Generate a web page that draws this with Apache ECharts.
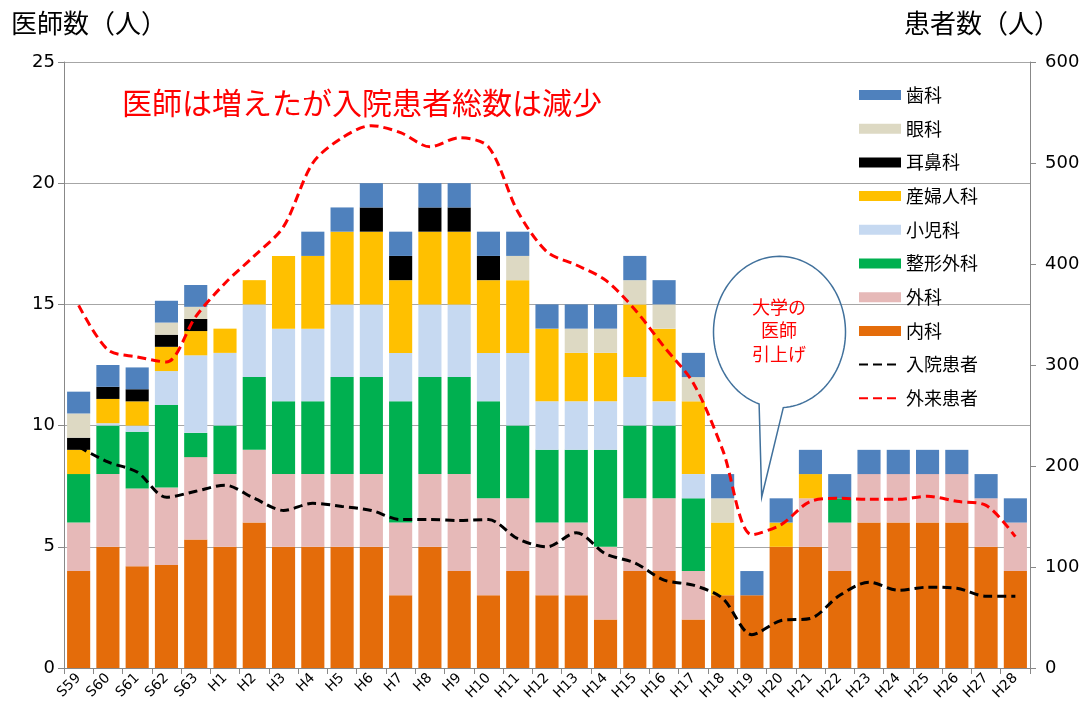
<!DOCTYPE html>
<html>
<head>
<meta charset="utf-8">
<script src="https://cdn.jsdelivr.net/npm/echarts@6/dist/echarts.min.js"></script>
<style>
html,body{margin:0;padding:0;background:#fff;}
#chart{width:1092px;height:711px;}
</style>
</head>
<body>
<div id="chart"></div>
<script>
const categories = ['S59','S60','S61','S62','S63','H1','H2','H3','H4','H5','H6','H7','H8','H9','H10','H11','H12','H13','H14','H15','H16','H17','H18','H19','H20','H21','H22','H23','H24','H25','H26','H27','H28'];

const naika     = [4, 5, 4.2, 4.25, 5.3, 5, 6, 5, 5, 5, 5, 3, 5, 4, 3, 4, 3, 3, 2, 4, 4, 2, 3, 3, 5, 5, 4, 6, 6, 6, 6, 5, 4];
const geka      = [2, 3, 3.2, 3.2, 3.4, 3, 3, 3, 3, 3, 3, 3, 3, 4, 4, 3, 3, 3, 3, 3, 3, 2, 0, 0, 0, 2, 2, 2, 2, 2, 2, 2, 2];
const seikei    = [2, 2, 2.35, 3.4, 1, 2, 3, 3, 3, 4, 4, 5, 4, 4, 4, 3, 3, 3, 4, 3, 3, 3, 0, 0, 0, 0, 1, 0, 0, 0, 0, 0, 0];
const shoni     = [0, 0.1, 0.25, 1.4, 3.2, 3, 3, 3, 3, 3, 3, 2, 3, 3, 2, 3, 2, 2, 2, 2, 1, 1, 0, 0, 0, 0, 0, 0, 0, 0, 0, 0, 0];
const sanfujin  = [1, 1, 1, 1, 1, 1, 1, 3, 3, 3, 3, 3, 3, 3, 3, 3, 3, 2, 2, 3, 3, 3, 3, 0, 1, 1, 0, 0, 0, 0, 0, 0, 0];
const jibi      = [0.5, 0.5, 0.5, 0.5, 0.5, 0, 0, 0, 0, 0, 1, 1, 1, 1, 1, 0, 0, 0, 0, 0, 0, 0, 0, 0, 0, 0, 0, 0, 0, 0, 0, 0, 0];
const ganka     = [1, 0, 0, 0.5, 0.5, 0, 0, 0, 0, 0, 0, 0, 0, 0, 0, 1, 0, 1, 1, 1, 1, 1, 1, 0, 0, 0, 0, 0, 0, 0, 0, 0, 0];
const shika     = [0.9, 0.9, 0.9, 0.9, 0.9, 0, 0, 0, 1, 1, 1, 1, 1, 1, 1, 1, 1, 1, 1, 1, 1, 1, 1, 1, 1, 1, 1, 1, 1, 1, 1, 1, 1];

const nyuin     = [219, 204, 194, 169, 175, 181, 168, 156, 163, 160, 156, 147, 147, 146, 147, 128, 120, 134, 113, 104, 87, 82, 69, 33, 47, 49, 72, 85, 77, 80, 79, 71, 71];
const gairai    = [359, 315, 308, 303, 348, 381, 408, 437, 500, 525, 537, 530, 516, 525, 516, 452, 412, 399, 384, 355, 318, 282, 216, 132, 142, 165, 168, 167, 167, 170, 165, 161, 130];

const leftTicks = {min: 0, max: 25, interval: 5};
const rightTicks = {min: 0, max: 600, interval: 100};

const JP = '"Noto Sans CJK JP", "Noto Sans", sans-serif';
const NUM = '"DejaVu Sans", "Noto Sans", sans-serif';

const barDefs = [
  ['内科', naika, '#E46C0A'],
  ['外科', geka, '#E6B9B8'],
  ['整形外科', seikei, '#00B050'],
  ['小児科', shoni, '#C6D9F1'],
  ['産婦人科', sanfujin, '#FFC000'],
  ['耳鼻科', jibi, '#000000'],
  ['眼科', ganka, '#DDD9C3'],
  ['歯科', shika, '#4F81BD']
];

const series = barDefs.map(([name, data, color]) => ({
  name, type: 'bar', stack: 'doc', data,
  barCategoryGap: '21%',
  itemStyle: {color},
  emphasis: {disabled: true}
}));
series.push({
  name: '入院患者', type: 'line', yAxisIndex: 1, data: nyuin,
  smooth: 0.3, symbol: 'none',
  lineStyle: {color: '#000000', width: 3, type: [9, 5]},
  itemStyle: {color: '#000000'}, z: 5
});
series.push({
  name: '外来患者', type: 'line', yAxisIndex: 1, data: gairai,
  smooth: 0.3, symbol: 'none',
  lineStyle: {color: '#FF0000', width: 3, type: [9, 5]},
  itemStyle: {color: '#FF0000'}, z: 5
});

const legendOrder = ['歯科','眼科','耳鼻科','産婦人科','小児科','整形外科','外科','内科','入院患者','外来患者'];

// speech bubble outline (annotation shape)
const bubble = {cx: 779.5, cy: 332, rx: 66, ry: 75.7, a0: 108, a1: 446.7, tip: [761.7, 497]};
const bubblePts = [];
for (let a = bubble.a0; a <= bubble.a1 + 0.001; a += 3) {
  const t = a * Math.PI / 180;
  bubblePts.push([bubble.cx + bubble.rx * Math.cos(t), bubble.cy + bubble.ry * Math.sin(t)]);
}
{
  const t = bubble.a1 * Math.PI / 180;
  bubblePts.push([bubble.cx + bubble.rx * Math.cos(t), bubble.cy + bubble.ry * Math.sin(t)]);
}
bubblePts.push(bubble.tip);

const chart = echarts.init(document.getElementById('chart'), null, {renderer: 'canvas'});
chart.setOption({
  animation: false,
  backgroundColor: '#ffffff',
  textStyle: {fontFamily: JP},
  title: [
    {text: '医師数（人）', left: 6, top: 5, textStyle: {fontFamily: JP, fontSize: 26, fontWeight: 'normal', color: '#000'}},
    {text: '患者数（人）', left: 899, top: 5, textStyle: {fontFamily: JP, fontSize: 26, fontWeight: 'normal', color: '#000'}},
    {text: '医師は増えたが入院患者総数は減少', left: 117, top: 83, textStyle: {fontFamily: JP, fontSize: 30, fontWeight: 'normal', color: '#FF0000'}}
  ],
  grid: {left: 64, right: 62, top: 62, bottom: 43, containLabel: false},
  legend: {
    orient: 'vertical', left: 853, top: 81,
    itemWidth: 42, itemHeight: 10, itemGap: 15.7,
    textStyle: {fontFamily: JP, fontSize: 18, color: '#000'},
    data: legendOrder.map(n => (n === '入院患者' || n === '外来患者')
      ? {name: n, itemStyle: {opacity: 0}}
      : {name: n, icon: 'rect'})
  },
  xAxis: {
    type: 'category', data: categories,
    axisLine: {lineStyle: {color: '#888888', width: 1}},
    axisTick: {show: true, length: 6, lineStyle: {color: '#888888'}},
    axisLabel: {interval: 0, rotate: 45, fontFamily: NUM, fontSize: 14, color: '#000', margin: 8}
  },
  yAxis: [
    {
      type: 'value', min: leftTicks.min, max: leftTicks.max, interval: leftTicks.interval,
      axisLine: {show: true, lineStyle: {color: '#888888'}},
      axisTick: {show: true, length: 6, lineStyle: {color: '#888888'}},
      axisLabel: {fontFamily: NUM, fontSize: 18, color: '#000', margin: 9},
      splitLine: {show: true, lineStyle: {color: '#A6A6A6', width: 1}}
    },
    {
      type: 'value', min: rightTicks.min, max: rightTicks.max, interval: rightTicks.interval,
      position: 'right',
      axisLine: {show: true, lineStyle: {color: '#888888'}},
      axisTick: {show: true, length: 6, lineStyle: {color: '#888888'}},
      axisLabel: {fontFamily: NUM, fontSize: 18, color: '#000', margin: 15},
      splitLine: {show: false}
    }
  ],
  graphic: [
    {
      type: 'polygon', z: 10,
      shape: {points: bubblePts},
      style: {fill: 'none', stroke: '#41719C', lineWidth: 1.5}
    },
    {
      type: 'text', z: 11,
      style: {
        text: '大学の\n医師\n引上げ', x: 779, y: 295,
        font: '18px ' + JP, fontSize: 18, fontFamily: JP, lineHeight: 23.5,
        fill: '#FF0000', align: 'center', verticalAlign: 'top'
      }
    }
  ],
  series
});
</script>
</body>
</html>
